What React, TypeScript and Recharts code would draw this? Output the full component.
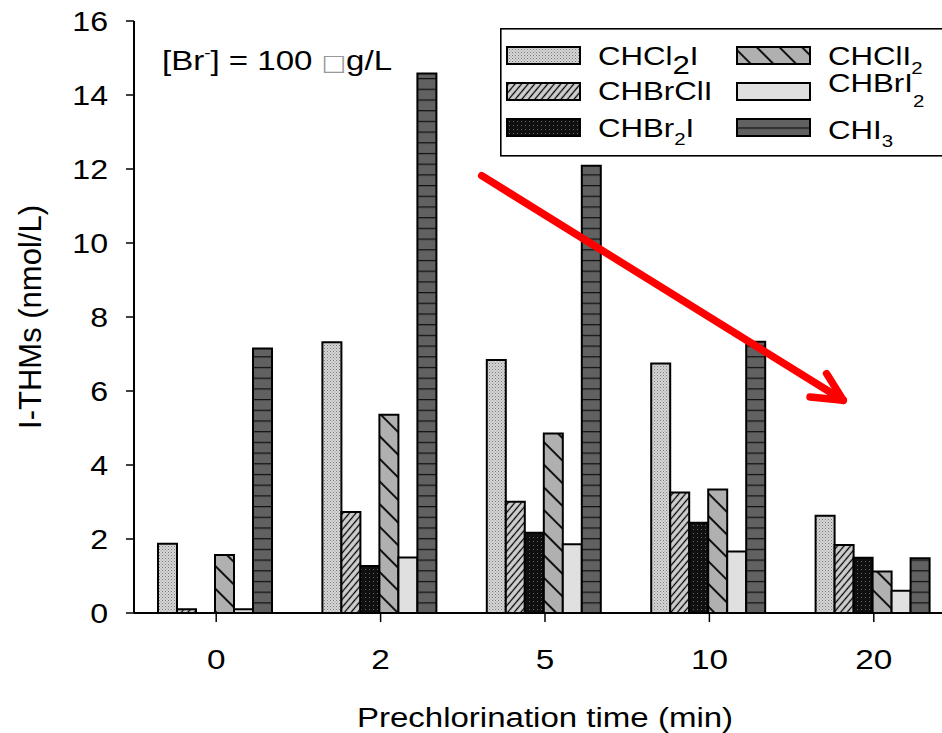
import React from 'react';
import { BarChart, Bar, XAxis, YAxis, Legend, ReferenceLine, Customized } from 'recharts';

const categories = ['0', '2', '5', '10', '20'];
const chcl2i = [1.87, 7.32, 6.84, 6.74, 2.63];
const chbrcli = [0.1, 2.73, 3.01, 3.26, 1.84];
const chbr2i = [0, 1.27, 2.17, 2.44, 1.49];
const chcli2 = [1.57, 5.36, 4.85, 3.34, 1.12];
const chbri2 = [0.1, 1.5, 1.86, 1.66, 0.6];
const chi3 = [7.15, 14.58, 12.09, 7.33, 1.48];
const yTicks = [0, 2, 4, 6, 8, 10, 12, 14, 16];

// arrow annotation in data units (numeric helper axis: category index, y value)
const arrowStart = { x: 1.615, y: 11.82 };
const arrowTip = { x: 3.814, y: 5.75 };
const arrowWingA = { x: 3.713, y: 6.47 };
const arrowWingB = { x: 3.612, y: 5.84 };

type Part = [string, number];
const series: { key: string; fill: string; parts: Part[] }[] = [
  { key: 'CHCl2I', fill: 'url(#pStip)', parts: [['CHCl', 0], ['2', 9], ['I', -9]] },
  { key: 'CHBrClI', fill: 'url(#pFwd)', parts: [['CHBrClI', 0]] },
  { key: 'CHBr2I', fill: 'url(#pDots)', parts: [['CHBr', 0], ['2', 8], ['I', -8]] },
  { key: 'CHClI2', fill: 'url(#pBack)', parts: [['CHClI', 0], ['2', 9]] },
  { key: 'CHBrI2', fill: '#e0e0e0', parts: [['CHBrI', 0], ['2', 15]] },
  { key: 'CHI3', fill: 'url(#pBrick)', parts: [['CHI', 0], ['3', 8]] },
];
const values = [chcl2i, chbrcli, chbr2i, chcli2, chbri2, chi3];

const data = categories.map((c, i) => {
  const row: Record<string, any> = { cat: c, idx: i };
  series.forEach((s, k) => (row[s.key] = values[k][i]));
  return row;
});

const FONT = '"Liberation Sans", Arial, Helvetica, sans-serif';
const SX = 1.19;

const YTick = (props: any) => {
  const { x, y, payload } = props;
  return (
    <text transform={`translate(${x},${y + 9.5}) scale(${SX},1)`} textAnchor="end" fontSize={27} fontFamily={FONT} fill="#000">
      {payload.value}
    </text>
  );
};

const XTick = (props: any) => {
  const { x, y, payload } = props;
  return (
    <text transform={`translate(${x},${y + 47}) scale(${SX},1)`} textAnchor="middle" fontSize={28} fontFamily={FONT} fill="#000">
      {payload.value}
    </text>
  );
};

const XTitle = (props: any) => {
  const vb = props.viewBox || {};
  const cx = vb.x + vb.width / 2;
  return (
    <text transform={`translate(${cx},727) scale(1.18,1)`} textAnchor="middle" fontSize={28} fontFamily={FONT} fill="#000">
      Prechlorination time (min)
    </text>
  );
};

const YTitle = () => (
  <text transform="translate(41,317) rotate(-90)" textAnchor="middle" fontSize={31} fontFamily={FONT} fill="#000">
    I-THMs (nmol/L)
  </text>
);

const Annotation = () => (
  <text transform="translate(162,70) scale(1.18,1)" fontSize={28} fontFamily={FONT} fill="#000">
    [Br
    <tspan fontSize={16} dy={-12}>-</tspan>
    <tspan dy={12}>] = 100 </tspan>
    <tspan fill="#999" fontFamily='"DejaVu Sans", sans-serif' fontSize={22}>□</tspan>
    <tspan>g/L</tspan>
  </text>
);

const rowY = [19, 55, 91];
const textBase = [[37, 72, 109], [37, 64, 111]];
const LegendBox = () => (
  <svg width={460} height={132} style={{ display: 'block' }}>
    <rect x={0.8} y={0.8} width={456} height={127} fill="#fff" stroke="#000" strokeWidth={1.6} />
    {series.map((s, i) => {
      const col = i < 3 ? 0 : 1;
      const row = i % 3;
      const sx = col === 0 ? 7 : 237;
      const tx = col === 0 ? 98 : 328;
      return (
        <g key={s.key}>
          <rect x={sx} y={rowY[row]} width={73} height={17} fill={s.fill} stroke="#000" strokeWidth={2} />
          <text transform={`translate(${tx},${textBase[col][row]}) scale(1.2,1)`} fontSize={26} fontFamily={FONT} fill="#000">
            {s.parts.map(([t, dy], j) => (
              <tspan key={j} dy={dy} fontSize={t.length === 1 && /[23]/.test(t) && !(i === 0) ? 17 : 26}>
                {t}
              </tspan>
            ))}
          </text>
        </g>
      );
    })}
  </svg>
);

export default function App() {
  return (
    <div style={{ position: 'fixed', left: 0, top: 0, width: 942, height: 733, overflow: 'hidden', background: '#fff' }}>
      <svg width={0} height={0} style={{ position: 'absolute' }}>
        <defs>
          <pattern id="pStip" width={3} height={3} patternUnits="userSpaceOnUse">
            <rect width={3} height={3} fill="#d6d6d6" />
            <rect x={0} y={0} width={1} height={1} fill="#7a7a7a" />
            <rect x={1.5} y={1.5} width={1} height={1} fill="#999" />
          </pattern>
          <pattern id="pFwd" width={5} height={10} patternUnits="userSpaceOnUse" patternTransform="rotate(40)">
            <rect width={5} height={10} fill="#d0d0d0" />
            <line x1={2.5} y1={0} x2={2.5} y2={10} stroke="#000" strokeWidth={1.3} />
          </pattern>
          <pattern id="pDots" width={4} height={4} patternUnits="userSpaceOnUse">
            <rect width={4} height={4} fill="#101010" />
            <rect x={1} y={1} width={1} height={1} fill="#666" />
          </pattern>
          <pattern id="pBack" width={16} height={20} patternUnits="userSpaceOnUse" patternTransform="rotate(-45)">
            <rect width={16} height={20} fill="#b0b0b0" />
            <line x1={8} y1={0} x2={8} y2={20} stroke="#000" strokeWidth={1.8} />
          </pattern>
          <pattern id="pBrick" x={0} y={613} width={20} height={10.7} patternUnits="userSpaceOnUse">
            <rect width={20} height={10.7} fill="#616161" />
            <line x1={0} y1={0.6} x2={20} y2={0.6} stroke="#111" strokeWidth={1.3} />
          </pattern>
        </defs>
      </svg>
      <BarChart
        width={980}
        height={733}
        data={data}
        margin={{ top: 21, right: 24, bottom: 0, left: 0 }}
        barCategoryGap={24}
        barGap={0}
      >
        <XAxis
          dataKey="cat"
          height={120}
          tickSize={9}
          tickMargin={0}
          tick={<XTick />}
          tickLine={{ stroke: '#000', strokeWidth: 1.5 }}
          axisLine={{ stroke: '#000', strokeWidth: 2 }}
          label={<XTitle />}
        />
        <XAxis xAxisId="top" dataKey="cat" orientation="top" height={0} tick={false} tickLine={false} axisLine={{ stroke: '#000', strokeWidth: 1.5 }} />
        <XAxis xAxisId="n" dataKey="idx" type="number" domain={[-0.5, 4.5]} allowDataOverflow hide />
        <YAxis
          width={134}
          domain={[0, 16]}
          ticks={yTicks}
          interval={0}
          tickSize={8}
          tickMargin={18}
          tick={<YTick />}
          tickLine={{ stroke: '#000', strokeWidth: 1.5 }}
          axisLine={{ stroke: '#000', strokeWidth: 2 }}
          label={<YTitle />}
        />
        {series.map((s) => (
          <Bar key={s.key} dataKey={s.key} fill={s.fill} stroke="#000" strokeWidth={2} isAnimationActive={false} />
        ))}
        <ReferenceLine xAxisId="n" segment={[arrowStart, arrowTip]} stroke="#ff0000" strokeWidth={7.5} strokeLinecap="round" ifOverflow="visible" />
        <ReferenceLine xAxisId="n" segment={[arrowWingA, arrowTip]} stroke="#ff0000" strokeWidth={7.5} strokeLinecap="round" ifOverflow="visible" />
        <ReferenceLine xAxisId="n" segment={[arrowWingB, arrowTip]} stroke="#ff0000" strokeWidth={7.5} strokeLinecap="round" ifOverflow="visible" />
        <Legend
          verticalAlign="middle"
          align="center"
          content={() => <LegendBox />}
          wrapperStyle={{ position: 'absolute', left: 500, top: 28, width: 460, height: 132 }}
        />
        <Customized component={<Annotation />} />
      </BarChart>
    </div>
  );
}
